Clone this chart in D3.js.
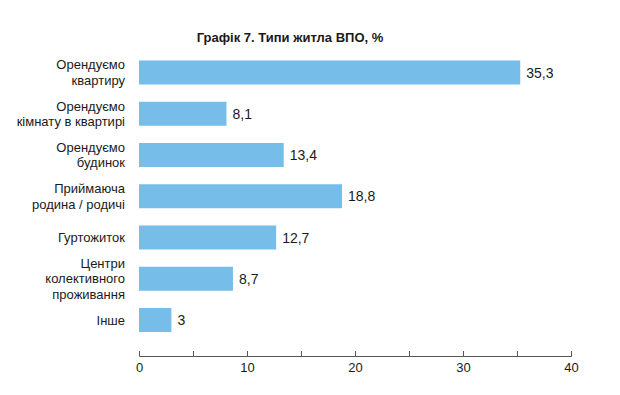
<!DOCTYPE html>
<html><head><meta charset="utf-8">
<script src="https://cdn.jsdelivr.net/npm/d3@7"></script>
<style>
html,body{margin:0;padding:0;background:#fff;}
svg{display:block;font-family:"Liberation Sans",Arial,sans-serif;}
</style></head>
<body>
<svg id="chart" width="620" height="395"></svg>
<script>
const title = "Графік 7. Типи житла ВПО, %";
const categories = [
  "Орендуємо\nквартиру",
  "Орендуємо\nкімнату в квартирі",
  "Орендуємо\nбудинок",
  "Приймаюча\nродина / родичі",
  "Гуртожиток",
  "Центри\nколективного\nпроживання",
  "Інше"
];
const values = [35.3, 8.1, 13.4, 18.8, 12.7, 8.7, 3];
const valueLabels = ["35,3", "8,1", "13,4", "18,8", "12,7", "8,7", "3"];
const tickValues = [0, 5, 10, 15, 20, 25, 30, 35, 40];

const svg = d3.select("#chart");
const x = d3.scaleLinear().domain([0, 40]).range([139, 571]);
const y = d3.scaleBand().domain(categories).range([51.875, 340.625])
  .paddingInner(0.418).paddingOuter(0.209);

svg.append("text")
  .attr("x", 290).attr("y", 42)
  .attr("text-anchor", "middle")
  .attr("font-weight", "bold")
  .attr("font-size", 13)
  .attr("fill", "#1a1a1a")
  .text(title);

svg.append("g").selectAll("rect").data(values).join("rect")
  .attr("x", x(0))
  .attr("y", (d, i) => y(categories[i]))
  .attr("width", d => x(d) - x(0))
  .attr("height", y.bandwidth())
  .attr("fill", "#76bde9");

svg.append("g").selectAll("text").data(values).join("text")
  .attr("x", d => x(d) + 6)
  .attr("y", (d, i) => y(categories[i]) + y.bandwidth() / 2)
  .attr("dy", "0.36em")
  .attr("font-size", 14)
  .attr("fill", "#1a1a1a")
  .text((d, i) => valueLabels[i]);

const lh = 15.5;
const lab = svg.append("g").selectAll("text").data(categories).join("text")
  .attr("text-anchor", "end")
  .attr("font-size", 13)
  .attr("fill", "#1a1a1a")
  .attr("y", d => y(d) + y.bandwidth() / 2);
lab.each(function(d) {
  const lines = d.split("\n");
  const t = d3.select(this);
  lines.forEach((l, i) => {
    t.append("tspan").attr("x", 125)
      .attr("dy", i === 0 ? ((-(lines.length - 1) / 2) * lh + 4.6) : lh)
      .text(l);
  });
});

const axis = d3.axisBottom(x).tickValues(tickValues)
  .tickSizeInner(-5).tickSizeOuter(-5).tickPadding(7)
  .tickFormat(d => d % 10 === 0 ? d : "");
const ax = svg.append("g").attr("transform", "translate(0,356)").call(axis);
ax.selectAll("path,line").attr("stroke", "#555");
ax.selectAll("text").attr("font-size", 13).attr("fill", "#1a1a1a")
  .attr("font-family", "Liberation Sans, Arial, sans-serif");
</script>
</body></html>
